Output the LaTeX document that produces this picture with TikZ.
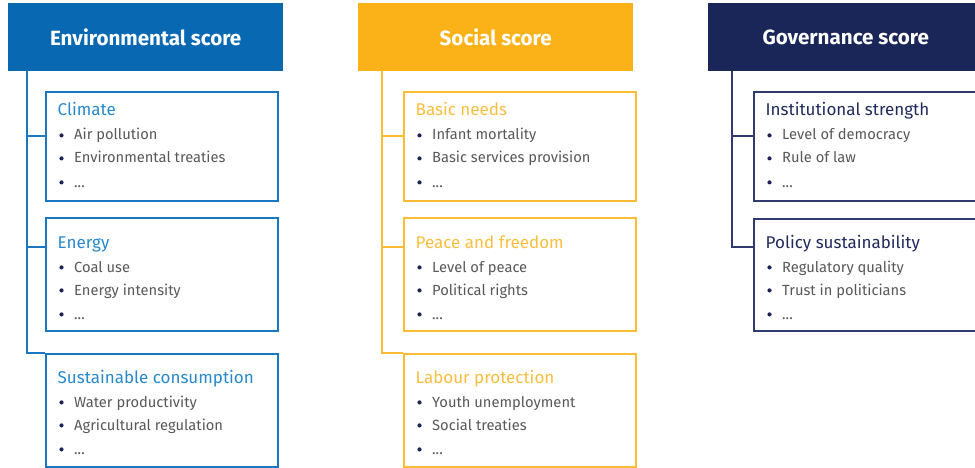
\documentclass[tikz,border=0pt]{standalone}
\usepackage{fontspec}
\setmainfont{Fira Sans}
\definecolor{envhead}{RGB}{8,104,178}
\definecolor{envline}{RGB}{26,120,194}
\definecolor{envtitle}{RGB}{40,136,204}
\definecolor{sochead}{RGB}{251,178,24}
\definecolor{socline}{RGB}{252,188,52}
\definecolor{soctitle}{RGB}{250,190,62}
\definecolor{govhead}{RGB}{27,38,88}
\definecolor{govline}{RGB}{48,58,108}
\definecolor{govtitle}{RGB}{32,42,92}
\definecolor{itemgray}{RGB}{88,88,88}
\definecolor{bulletnavy}{RGB}{28,36,84}
\tikzset{
  header/.style={fill=#1, draw=none, anchor=north west, inner sep=0pt,
    minimum width=275pt, minimum height=68pt, text=white,
    font=\bfseries\fontsize{20.6}{24}\selectfont},
  catbox/.style={draw=#1, line width=1.8pt, anchor=north west, inner sep=0pt,
    minimum width=232pt},
  boxtitle/.style={anchor=base west, inner sep=0pt,
    font=\fontsize{17}{20}\selectfont},
  itemtext/.style={anchor=base west, inner sep=0pt, text=itemgray,
    font=\fontsize{14.7}{17}\selectfont},
  bulletdot/.style={circle, fill=bulletnavy, draw=none, inner sep=0pt,
    minimum size=4.2pt},
  conn/.style={draw=#1, line width=1.8pt}
}
% #1 name, #2 colour prefix, #3 left x, #4 top y, #5 height,
% #6 title baseline below top, #7 title, #8 first item, #9 second item
\newcommand\catentry[9]{%
  \node[catbox=#2line, minimum height=#5pt] (#1) at (#3,#4) {};
  \node[boxtitle, text=#2title] (#1-t) at (#3+12.5,#4+#6) {#7};
  \node[bulletdot] (#1-b1) at (#3+16.5,#4+#6+24-4.6) {};
  \node[itemtext] (#1-i1) at (#3+29,#4+#6+24) {#8};
  \node[bulletdot] (#1-b2) at (#3+16.5,#4+#6+47-4.6) {};
  \node[itemtext] (#1-i2) at (#3+29,#4+#6+47) {#9};
  \node[bulletdot] (#1-b3) at (#3+16.5,#4+#6+71-4.6) {};
  \node[itemtext] (#1-i3) at (#3+29,#4+#6+71) {...};
}
\begin{document}
\begin{tikzpicture}[x=1pt,y=-1pt]
\useasboundingbox (0,0) rectangle (975,468);
\clip (0,0) rectangle (975,468);

% column headers
\node[header=envhead] (envh) at (8,3) {Environmental score};
\node[header=sochead] (soch) at (358,3) {Social score};
\node[header=govhead] (govh) at (708,3) {Governance score};

% environmental pillar
\catentry{climate}{env}{45}{91}{109}{25}{Climate}{Air pollution}{Environmental treaties}
\catentry{energy}{env}{45}{217}{113}{31}{Energy}{Coal use}{Energy intensity}
\catentry{consum}{env}{45}{353}{113}{30}{Sustainable consumption}{Water productivity}{Agricultural regulation}

% social pillar
\catentry{needs}{soc}{403}{91}{109}{25}{Basic needs}{Infant mortality}{Basic services provision}
\catentry{peace}{soc}{403}{217}{113}{31}{Peace and freedom}{Level of peace}{Political rights}
\catentry{labour}{soc}{403}{353}{113}{30}{Labour protection}{Youth unemployment}{Social treaties}

% governance pillar
\catentry{inst}{gov}{753}{91}{109}{25}{Institutional strength}{Level of democracy}{Rule of law}
\catentry{policy}{gov}{753}{218}{112}{30}{Policy sustainability}{Regulatory quality}{Trust in politicians}

% tree connectors
\draw[conn=envline] ([xshift=19pt]envh.south west) |- ([yshift=-45pt]climate.north west);
\draw[conn=envline] ([xshift=19pt]envh.south west) |- ([yshift=-30pt]energy.north west);
\draw[conn=envline] ([xshift=19pt]envh.south west) |- (consum.north west);

\draw[conn=socline] ([xshift=24pt]soch.south west) |- ([yshift=-45pt]needs.north west);
\draw[conn=socline] ([xshift=24pt]soch.south west) |- ([yshift=-30pt]peace.north west);
\draw[conn=socline] ([xshift=24pt]soch.south west) |- (labour.north west);

\draw[conn=govline] ([xshift=24pt]govh.south west) |- ([yshift=-45pt]inst.north west);
\draw[conn=govline] ([xshift=24pt]govh.south west) |- ([yshift=-29pt]policy.north west);
\end{tikzpicture}
\end{document}
